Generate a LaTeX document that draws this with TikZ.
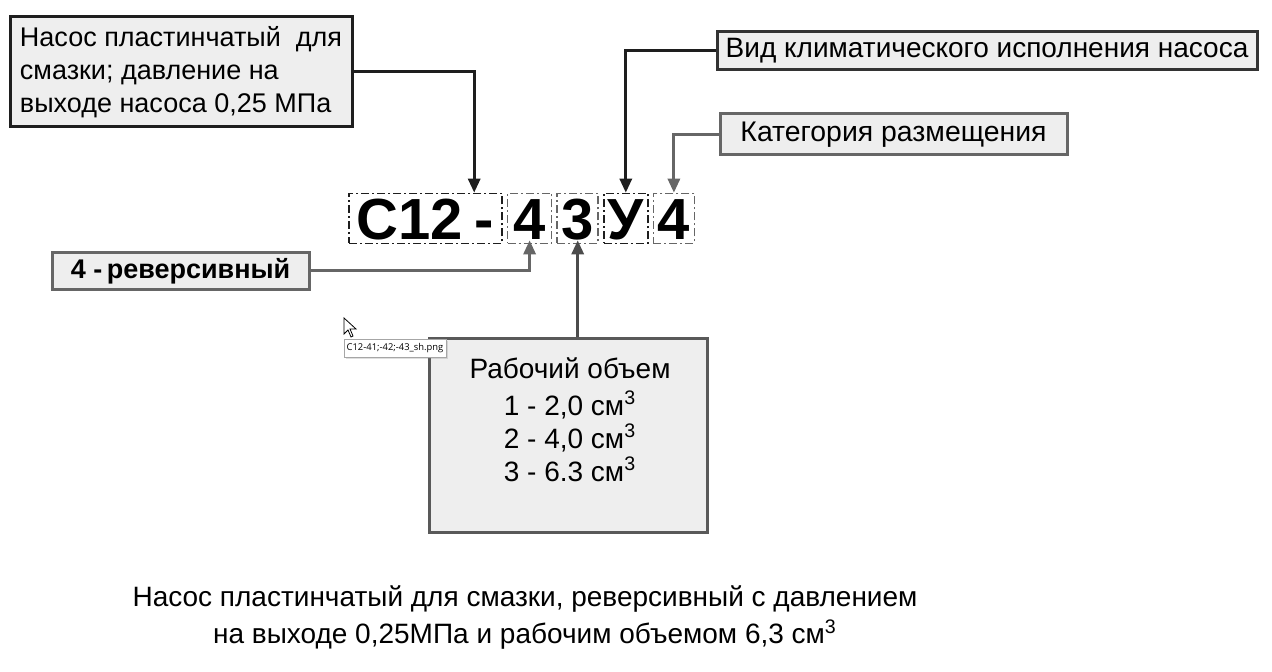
\documentclass[tikz,border=0pt]{standalone}
\usepackage{fontspec}
\setmainfont{Liberation Sans}
\newfontfamily\tipfont{Open Sans}
\usetikzlibrary{positioning,arrows.meta,calc,shadows}

\definecolor{boxfill}{HTML}{EEEEEE}
\definecolor{darkline}{HTML}{1E1E1E}
\definecolor{greyline}{HTML}{666666}

\tikzset{
	infobox/.style={draw=darkline, fill=boxfill, line width=1.5pt, inner sep=3pt,
		font=\fontsize{13.5}{16.5}\selectfont},
	codebox/.style={draw=darkline, line width=0.8pt,
		dash pattern=on 4pt off 1.5pt on 1pt off 1.5pt,
		minimum height=25pt, inner xsep=0pt, inner ysep=1.5pt,
		text height=21.5pt, text depth=0pt,
		font=\bfseries\fontsize{29}{31}\selectfont},
	pointer/.style={-{Triangle[width=6pt,length=7pt]}, line width=1.5pt, draw=darkline},
	tipbox/.style={draw=black!35, fill=white, line width=0.4pt, inner sep=1pt,
		minimum width=51pt, minimum height=9pt,
		drop shadow={shadow xshift=1pt, shadow yshift=-1pt, opacity=0.25},
		font=\tipfont\fontsize{4.7}{6}\selectfont},
}

\begin{document}
\begin{tikzpicture}[x=0.5pt, y=-0.5pt, node distance=2pt]
\useasboundingbox (0,0) rectangle (1272,672);

% boxes with explanations
\node[infobox, align=left, minimum width=171pt, minimum height=55pt] (pump) at (181,72)
	{Насос пластинчатый \ для\\смазки; давление на\\выходе насоса 0,25 МПа};
\node[infobox, draw=black!80, font=\fontsize{14}{16.5}\selectfont,
	minimum width=270pt, minimum height=19pt] (climate) at (987,51)
	{Вид климатического исполнения насоса};
\node[infobox, draw=greyline, font=\fontsize{14.2}{16.5}\selectfont,
	minimum width=173.5pt, minimum height=20.5pt] (placing) at (893.5,134.5)
	{Категория размещения};
\node[infobox, draw=greyline, font=\bfseries\fontsize{13.5}{16.5}\selectfont,
	minimum width=128.5pt, minimum height=17pt] (reverse) at (180.5,271)
	{4 -\,реверсивный};
\node[infobox, draw=black!65, minimum width=139pt, minimum height=96.5pt] (volume) at (568,435.5) {};
\node[anchor=north, align=center, inner sep=0pt, font=\fontsize{14}{16.5}\selectfont] (voltext) at (570,357)
	{Рабочий объем\\[2pt]1 - 2,0 см\textsuperscript{3}\\2 - 4,0 см\textsuperscript{3}\\3 - 6.3 см\textsuperscript{3}};

% code of the pump
\node[codebox, minimum width=76.5pt] (series) at (425.5,218.5) {С12\hspace{6pt}-};
\node[codebox, draw=greyline, minimum width=22pt, right=of series] (code4) {4};
\node[codebox, draw=greyline, minimum width=20.5pt, right=of code4] (code3) {3};
\node[codebox, minimum width=22pt, right=of code3] (codeU) {У};
\node[codebox, draw=greyline, minimum width=20.5pt, right=of codeU] (codeP) {4};
\coordinate (dashtop) at ($(series.north west)+(126,0)$);

% pointers
\draw[pointer] (pump.east) -| (dashtop);
\draw[pointer] (climate.west) -| (codeU.north);
\draw[pointer, draw=greyline] (placing.west) -| (codeP.north);
\draw[pointer, draw=greyline, shorten >=-2pt] (reverse.east) -| (code4.south);
\draw[pointer, draw=black!70, shorten >=-2pt] (code3.south |- volume.north) -- (code3.south);

% tooltip and cursor
\node[tipbox] (tooltip) at (395,348) {C12-41;-42;-43\_sh.png};
\draw[fill=white, line width=0.4pt] (344,318) -- (344,334) -- (348,330) -- (351,337)
	-- (353,336) -- (350,329) -- (356,329) -- cycle;

% summary
\node[align=center, font=\fontsize{14}{18.5}\selectfont] (summary) at (525,618)
	{Насос пластинчатый для смазки, реверсивный с давлением\\на выходе 0,25МПа и рабочим объемом 6,3 см\textsuperscript{3}};
\end{tikzpicture}
\end{document}
